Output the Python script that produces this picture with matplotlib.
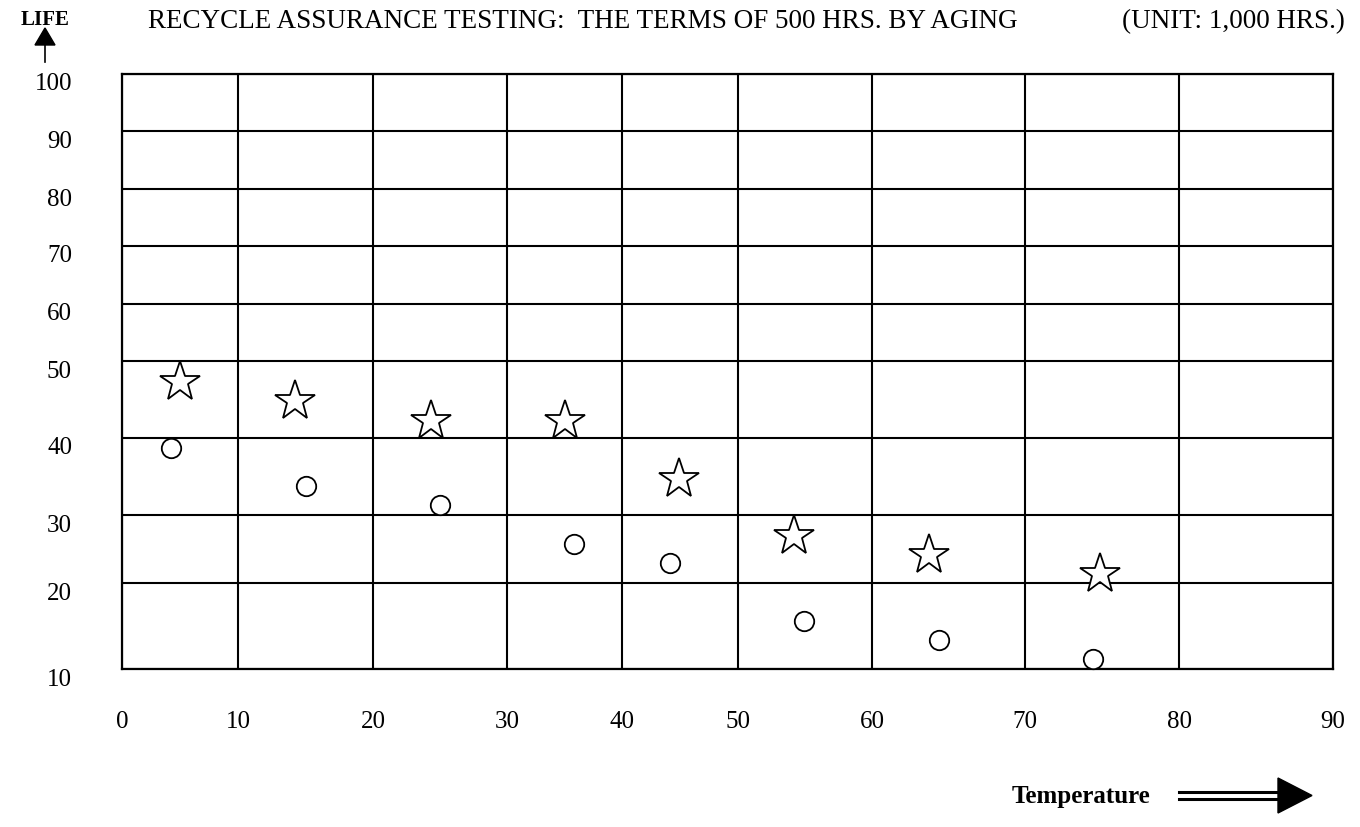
import numpy as np
import matplotlib
matplotlib.use("Agg")
import matplotlib.pyplot as plt
from matplotlib.transforms import ScaledTranslation
from matplotlib.patches import Polygon
from matplotlib.lines import Line2D

# grid values shown on the chart
x_ticks = [0, 10, 20, 30, 40, 50, 60, 70, 80, 90]
y_ticks = [10, 20, 30, 40, 50, 60, 70, 80, 90, 100]

# data (temperature, life)
star_temp = [5.0, 14.2, 24.3, 35.0, 44.9, 54.2, 63.7, 74.9]
star_life = [47.3, 44.8, 42.2, 42.2, 34.7, 26.9, 24.1, 21.3]
circle_temp = [4.2, 15.0, 25.0, 35.8, 44.1, 54.9, 64.4, 74.4]
circle_life = [38.7, 33.8, 31.3, 25.7, 22.9, 15.6, 13.4, 11.2]

# the hand-drawn grid is unevenly spaced: visual position of each grid line
x_grid_pos = [0, 116, 251, 385, 500, 616, 750, 903, 1057, 1211]
y_grid_pos = [0, 86, 154, 231, 308, 365, 423, 480, 538, 595]

W, H = 1360, 827
plt.rcParams["font.family"] = ["Liberation Serif", "DejaVu Serif"]

fig = plt.figure(figsize=(W / 100, H / 100), dpi=100)
ax = fig.add_axes([122 / W, 1 - 669 / H, (1333 - 122) / W, (669 - 74) / H])

ax.set_xscale("function", functions=(lambda v: np.interp(v, x_ticks, x_grid_pos),
                                     lambda p: np.interp(p, x_grid_pos, x_ticks)))
ax.set_yscale("function", functions=(lambda v: np.interp(v, y_ticks, y_grid_pos),
                                     lambda p: np.interp(p, y_grid_pos, y_ticks)))
ax.set_xlim(0, 90)
ax.set_ylim(10, 100)
ax.set_xticks(x_ticks)
ax.set_yticks(y_ticks)
ax.set_xticklabels([str(v) for v in x_ticks])
ax.set_yticklabels([str(v) for v in y_ticks])
ax.minorticks_off()
ax.tick_params(axis="x", length=0, pad=30, labelsize=18)
ax.tick_params(axis="y", length=0, pad=36, labelsize=18)
for lab in ax.get_yticklabels():
    lab.set_transform(lab.get_transform() + ScaledTranslation(0, -0.08, fig.dpi_scale_trans))

ax.grid(True, color="black", linewidth=1.5)
for s in ax.spines.values():
    s.set_linewidth(1.6)
    s.set_color("black")

ax.plot(star_temp, star_life, linestyle="none", marker="*", markersize=30,
        markerfacecolor="white", markeredgecolor="black", markeredgewidth=1.3,
        zorder=3, clip_on=False)
ax.plot(circle_temp, circle_life, linestyle="none", marker="o", markersize=14,
        markerfacecolor="white", markeredgecolor="black", markeredgewidth=1.3,
        zorder=3, clip_on=False)


def px(x, y):
    return (x / W, 1 - y / H)


fig.text(*px(148, 22), "RECYCLE ASSURANCE TESTING:  THE TERMS OF 500 HRS. BY AGING",
         fontsize=19.5, ha="left", va="center")
fig.text(*px(1345, 22), "(UNIT: 1,000 HRS.)", fontsize=19.5, ha="right", va="center")
fig.text(*px(45, 20), "LIFE", fontsize=15, fontweight="bold", ha="center", va="center")
fig.text(*px(1081, 796), "Temperature", fontsize=18, fontweight="bold", ha="center", va="center")

# LIFE arrow
fig.add_artist(Line2D([45 / W, 45 / W], [1 - 62 / H, 1 - 44 / H], color="black", linewidth=1.2))
fig.add_artist(Polygon([px(45, 28), px(35, 45), px(55, 45)], closed=True, color="black"))

# Temperature double arrow
fig.add_artist(Line2D([1179 / W, 1280 / W], [1 - 792 / H, 1 - 792 / H], color="black", linewidth=2.2))
fig.add_artist(Line2D([1179 / W, 1280 / W], [1 - 799 / H, 1 - 799 / H], color="black", linewidth=2.2))
fig.add_artist(Polygon([px(1278, 778), px(1312, 795.5), px(1278, 813)], closed=True, color="black"))

fig.savefig("out.png", dpi=100)
